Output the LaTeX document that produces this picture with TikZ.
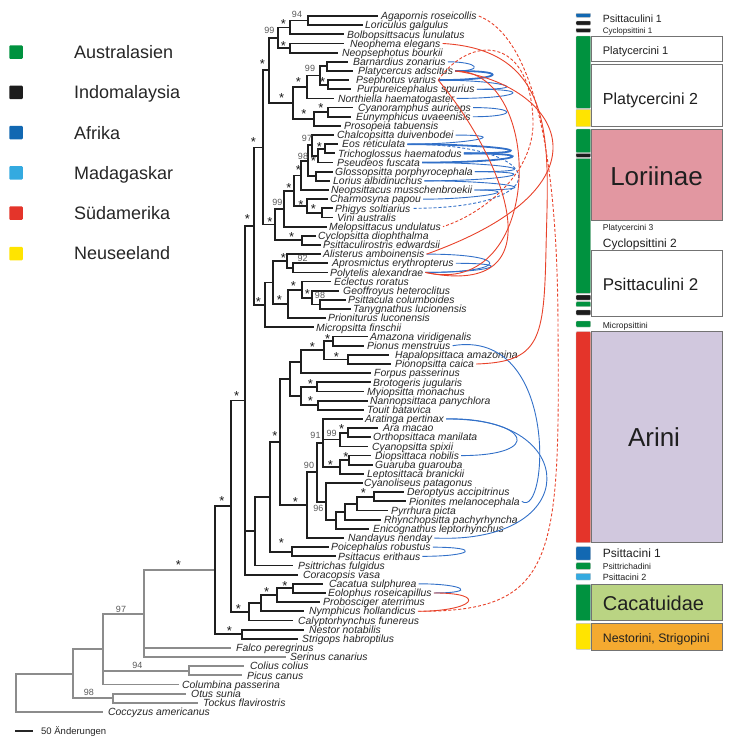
\documentclass[tikz,border=0pt]{standalone}
\usepackage{fontspec}
\setmainfont{Liberation Sans}
\definecolor{cgrn}{RGB}{0,146,63}
\definecolor{cblk}{RGB}{28,28,28}
\definecolor{cafr}{RGB}{18,104,178}
\definecolor{cmad}{RGB}{52,170,224}
\definecolor{csam}{RGB}{228,52,42}
\definecolor{cnz}{RGB}{255,228,0}
\definecolor{flori}{RGB}{226,151,161}
\definecolor{farini}{RGB}{209,200,222}
\definecolor{fcac}{RGB}{186,212,131}
\definecolor{fnest}{RGB}{244,170,48}
\definecolor{lblue}{RGB}{50,112,200}
\definecolor{lred}{RGB}{232,66,42}
\definecolor{ogray}{RGB}{140,140,140}
\newcommand\cloop[4]{\draw[#1] ([xshift=2pt]#2.east) .. controls +(#4,0) and +(#4,0) .. ([xshift=2pt]#3.east);}
\begin{document}
\begin{tikzpicture}[x=1pt,y=-1pt,
  tree/.style={line width=1.8pt, draw=black!88, line cap=rect},
  otree/.style={line width=1.8pt, draw=ogray, line cap=rect},
  taxon/.style={anchor=west, inner sep=0pt, text height=7.4pt, text depth=0pt, font=\fontsize{10.4}{11}\selectfont\itshape, text=black!85},
  st/.style={inner sep=0pt, yshift=-2.8pt, font=\fontsize{13}{13}\selectfont, text=black!90},
  sv/.style={inner sep=0pt, font=\fontsize{9}{10}\selectfont, text=black!65},
  bl/.style={draw=lblue, line width=0.9pt},
  blb/.style={draw=lblue, line width=1.8pt},
  rd/.style={draw=lred, line width=0.9pt},
  dsh/.style={dash pattern=on 3pt off 2pt},
  legsq/.style={minimum size=13.5pt, inner sep=0pt, rounded corners=1pt},
  legtx/.style={anchor=base west, inner sep=0pt, font=\fontsize{18}{20}\selectfont, text=black!85},
  barseg/.style={draw=black!25, line width=0.4pt, rounded corners=0.8pt},
  gbox/.style={draw=black!55, line width=1pt},
  ptx/.style={anchor=base west, inner sep=0pt, text=black!88},
  ]
\useasboundingbox (0,0) rectangle (750,740);

% ---------- internal nodes ----------
\coordinate (root) at (16,692.84);
\coordinate (n73) at (73,673.67);
\coordinate (nOT) at (113,698.27);
\coordinate (n103) at (103,649.07);
\coordinate (nCP) at (189,670.8);
\coordinate (n144) at (144,613.61);
\coordinate (nPs) at (215,570.16);
\coordinate (nNS) at (242,634.17);
\coordinate (n231) at (231,506.14);
\coordinate (nCac) at (249,611.84);
\coordinate (n261) at (261,603.26);
\coordinate (n277) at (277,595.24);
\coordinate (n293) at (293,588.38);
\coordinate (n245) at (245,400.44);
\coordinate (n255) at (255,531.18);
\coordinate (n270) at (270,496.88);
\coordinate (nPP) at (292,551.74);
\coordinate (nAri) at (280,442.03);
\coordinate (nAm) at (290,378.89);
\coordinate (nA1) at (301,361.72);
\coordinate (nA11) at (324.3,350.27);
\coordinate (nAP) at (333.3,341.11);
\coordinate (nHP) at (348,359.43);
\coordinate (nA2) at (301,396.06);
\coordinate (nBM) at (316.7,386.9);
\coordinate (nNT) at (318.3,405.22);
\coordinate (nArini) at (306.7,505.17);
\coordinate (n90) at (316.7,472.33);
\coordinate (n91) at (322.7,442.99);
\coordinate (n99) at (340,439.56);
\coordinate (nAO) at (347.7,432.69);
\coordinate (nDGL) at (340,467.03);
\coordinate (nDG) at (349,460.16);
\coordinate (n96) at (326,501.66);
\coordinate (nE) at (336,520.26);
\coordinate (nR) at (345,511.68);
\coordinate (nPy) at (356.7,503.66);
\coordinate (nDP) at (374,496.8);
\coordinate (n254) at (254.3,226.23);
\coordinate (nI) at (262.7,147.45);
\coordinate (nE2) at (269.3,70.38);
\coordinate (nD) at (277.7,37.75);
\coordinate (nB) at (290,27.45);
\coordinate (nA) at (307.7,20.58);
\coordinate (nC) at (290,48.05);
\coordinate (nM) at (293.3,103.0);
\coordinate (nK) at (306.7,86.98);
\coordinate (nL) at (320,75.53);
\coordinate (nBP) at (326.7,66.37);
\coordinate (nPP2) at (327.7,84.69);
\coordinate (nN) at (314,119.03);
\coordinate (nCE) at (328,112.16);
\coordinate (n11) at (275,224.52);
\coordinate (n9) at (284,208.67);
\coordinate (n8) at (294,190.7);
\coordinate (n6) at (301,175.4);
\coordinate (n4) at (308,160.8);
\coordinate (n2) at (312,145.36);
\coordinate (n3) at (318,155.66);
\coordinate (n1) at (325,148.79);
\coordinate (n5) at (316,176.27);
\coordinate (n7) at (307,206.03);
\coordinate (nPV) at (322,212.9);
\coordinate (n10) at (302,240.37);
\coordinate (n265) at (265,304.9);
\coordinate (n272) at (272.7,282.44);
\coordinate (n287) at (286.7,260.98);
\coordinate (nApP) at (293,267.85);
\coordinate (n288) at (287.7,303.9);
\coordinate (n302) at (302.3,289.6);
\coordinate (n312) at (312.3,297.61);
\coordinate (nPT) at (320,304.48);

% ---------- internal edges ----------
\foreach \p/\c in {root/n73, n73/n103, n73/nOT, n103/n144, n103/nCP, n144/nPs}
  \draw[otree] (\p) |- (\c);
\foreach \p/\c in {nPs/n231, nPs/nNS, n231/n245, n231/nCac, nCac/n261, n261/n277, n277/n293,
  n245/n254, n245/n255, n255/n270, n270/nAri, n270/nPP, nAri/nAm, nAri/nArini, nAm/nA1, nAm/nA2,
  nA1/nA11, nA11/nAP, nA11/nHP, nA2/nBM, nA2/nNT, nArini/n90, n90/n91, n90/n96, n91/n99, n91/nDGL,
  n99/nAO, nDGL/nDG, n96/nE, nE/nR, nR/nPy, nPy/nDP, n254/nI, n254/n265, nI/nE2, nI/n11, nE2/nD,
  nE2/nM, nD/nB, nD/nC, nB/nA, nM/nK, nM/nN, nK/nL, nL/nBP, nL/nPP2, nN/nCE, n11/n9, n11/n10,
  n9/n8, n8/n6, n8/n7, n6/n4, n4/n2, n4/n5, n2/n3, n3/n1, n7/nPV, n265/n272, n272/n287, n272/n288,
  n287/nApP, n288/n302, n302/n312, n312/nPT}
  \draw[tree] (\p) |- (\c);

% ---------- tips and taxon labels ----------
\foreach \p/\ex/\ty/\lx/\nm/\txt in {
 nA/377/16.0/381/t1/Agapornis roseicollis,
 nA/362/25.16/365/t2/Loriculus galgulus,
 nB/343/34.32/347/t3/Bolbopsittsacus lunulatus,
 nC/343/43.47/350/t4/Neophema elegans,
 nC/337/52.63/342/t5/Neopsephotus bourkii,
 nBP/347/61.79/353/t6/Barnardius zonarius,
 nBP/352/70.95/358/t7/Platycercus adscitus,
 nPP2/348/80.11/356/t8/Psephotus varius,
 nPP2/350/89.26/357/t9/Purpureicephalus spurius,
 nK/333/98.42/338/t10/Northiella haematogaster,
 nCE/352/107.58/358/t11/Cyanoramphus auriceps,
 nCE/350/116.74/356/t12/Eunymphicus uvaeenisis,
 nN/340/125.90/344/t13/Prosopeia tabuensis,
 n2/333/135.05/337/t14/Chalcopsitta duivenbodei,
 n1/337/144.21/342/t15/Eos reticulata,
 n1/334/153.37/338/t16/Trichoglossus haematodus,
 n3/332/162.53/337/t17/Pseudeos fuscata,
 n5/332/171.69/335/t18/Glossopsitta porphyrocephala,
 n5/329/180.84/333/t19/Lorius albidinuchus,
 n6/328/190.0/331/t20/Neopsittacus musschenbroekii,
 n7/327/199.16/330/t21/Charmosyna papou,
 nPV/332/208.32/335/t22/Phigys soltiarius,
 nPV/332/217.48/337/t23/Vini australis,
 n9/326/226.63/329/t24/Melopsittacus undulatus,
 n10/315/235.79/318/t25/Cyclopsitta diophthalma,
 n10/320/244.95/323/t26/Psittaculirostris edwardsii,
 n287/320/254.11/323/t27/Alisterus amboinensis,
 nApP/327/263.27/332/t28/Aprosmictus erythropterus,
 nApP/327/272.42/330/t29/Polytelis alexandrae,
 n302/330/281.58/334/t30/Eclectus roratus,
 n312/338/290.74/343/t31/Geoffroyus heteroclitus,
 nPT/345/299.90/348/t32/Psittacula columboides,
 nPT/350/309.06/353/t33/Tanygnathus lucionensis,
 n288/325/318.21/328/t34/Prioniturus luconensis,
 n265/313/327.37/316/t35/Micropsitta finschii,
 nAP/367/336.53/370/t36/Amazona viridigenalis,
 nAP/363/345.69/367/t37/Pionus menstruus,
 nHP/388/354.85/395/t38/Hapalopsittaca amazonina,
 nHP/390/364.0/395/t39/Pionopsitta caica,
 nA1/370/373.16/374/t40/Forpus passerinus,
 nBM/370/382.32/373/t41/Brotogeris jugularis,
 nBM/363/391.48/367/t42/Myiopsitta monachus,
 nNT/367/400.64/370/t43/Nannopsittaca panychlora,
 nNT/363/409.79/367/t44/Touit batavica,
 n91/362/418.95/365/t45/Aratinga pertinax,
 nAO/377/428.11/383/t46/Ara macao,
 nAO/370/437.27/373/t47/Orthopsittaca manilata,
 n99/367/446.43/372/t48/Cyanopsitta spixii,
 nDG/370/455.58/375/t49/Diopsittaca nobilis,
 nDG/372/464.74/375/t50/Guaruba guarouba,
 nDGL/363/473.90/367/t51/Leptosittaca branickii,
 n96/362/483.06/364/t52/Cyanoliseus patagonus,
 nDP/403/492.22/407/t53/Deroptyus accipitrinus,
 nDP/405/501.37/409/t54/Pionites melanocephala,
 nPy/387/510.53/391/t55/Pyrrhura picta,
 nR/380/519.69/384/t56/Rhynchopsitta pachyrhyncha,
 nE/368/528.85/373/t57/Enicognathus leptorhynchus,
 nArini/343/538.01/348/t58/Nandayus nenday,
 nPP/328/547.16/331/t59/Poicephalus robustus,
 nPP/335/556.32/338/t60/Psittacus erithaus,
 n255/292/565.48/298/t61/Psittrichas fulgidus,
 n245/297/574.64/303/t62/Coracopsis vasa,
 n293/322/583.80/329/t63/Cacatua sulphurea,
 n293/325/592.95/328/t64/Eolophus roseicapillus,
 n277/319/602.11/323/t65/Probosciger aterrimus,
 n261/303/611.27/309/t66/Nymphicus hollandicus,
 nCac/292/620.43/298/t67/Calyptorhynchus funereus,
 nNS/303/629.59/309/t68/Nestor notabilis,
 nNS/297/638.74/302/t69/Strigops habroptilus}
{
  \draw[tree] (\p) |- (\ex,\ty);
  \node[taxon] (\nm) at (\lx,\ty) {\txt};
}
\foreach \p/\ex/\ty/\lx/\nm/\txt in {
 n144/230/647.90/236/t70/Falco peregrinus,
 n144/285/657.06/290/t71/Serinus canarius,
 nCP/243/666.22/250/t72/Colius colius,
 nCP/241/675.38/247/t73/Picus canus,
 n103/178/684.53/182/t74/Columbina passerina,
 nOT/185/693.69/191/t75/Otus sunia,
 nOT/197/702.85/203/t76/Tockus flavirostris,
 root/102/712.01/108/t77/Coccyzus americanus}
{
  \draw[otree] (\p) |- (\ex,\ty);
  \node[taxon] (\nm) at (\lx,\ty) {\txt};
}

% ---------- support values ----------
\foreach \x/\y/\v [count=\k] in {297/14/94, 269.3/30.7/99, 310/68.3/99, 307/138.3/97, 303/156/98,
  277.3/202.3/99, 302.7/258.3/92, 320/295/98, 315.5/435.5/91, 331.7/433.7/99, 309/465.5/90,
  318.3/508.3/96, 121/609.3/97, 137.3/665/94, 89/692.7/98}
  \node[sv] (sv\k) at (\x,\y) {\v};
\foreach \x/\y [count=\k] in {283.3/21.7, 283.3/43.3, 262.3/61.7, 298.3/79, 322.7/79.3, 281.7/95.7,
  321/105, 304/111.7, 253.3/139, 319.3/144.3, 313.3/158.3, 298.3/167.7, 289/185.7, 301/202.3,
  313.3/206.7, 270/219, 247.3/216, 291.7/234, 283.3/255, 293.3/283.3, 307.3/291.7, 279.3/297.3,
  258.3/299, 236.7/393.3, 327.7/336.5, 312.3/344.5, 336.4/354.2, 310.5/381.7, 310.5/398.3,
  275/433.3, 341.7/426.2, 330.5/462.2, 346/454.5, 295.4/498.8, 363.3/490, 281.5/540, 222/498,
  178.3/562.7, 238.3/606.7, 266.7/589.3, 285/583.3, 229.3/628.3}
  \node[st] (st\k) at (\x,\y) {*};

% ---------- association curves ----------
\cloop{bl}{t6}{t7}{30}
\cloop{blb}{t7}{t8}{60}
\cloop{bl}{t8}{t9}{60}
\cloop{bl}{t9}{t10}{60}
\cloop{bl}{t11}{t12}{45}
\cloop{bl}{t14}{t15}{60}
\cloop{blb}{t15}{t16}{92}
\cloop{blb}{t16}{t17}{88}
\cloop{bl}{t17}{t18}{80}
\cloop{bl}{t18}{t19}{78}
\cloop{bl}{t19}{t20}{80}
\cloop{bl}{t20}{t21}{55}
\cloop{bl,dsh}{t15}{t22}{145}
\cloop{bl}{t27}{t29}{85}
\cloop{bl}{t28}{t29}{64}
\draw[bl] ([xshift=2pt]t37.east) .. controls (560,328) and (548,520) .. ([xshift=2pt]t54.east);
\cloop{bl}{t45}{t49}{84}
\draw[bl] ([xshift=2pt]t45.east) .. controls (580,415) and (585,545) .. ([xshift=2pt]t58.east);
\cloop{bl}{t59}{t60}{50}
\cloop{bl}{t63}{t64}{45}
\cloop{rd}{t64}{t66}{56}
\draw[rd] ([xshift=2pt]t4.east) .. controls (560,50) and (548,150) .. (546,250) .. controls (544,340) and (540,362) .. ([xshift=2pt]t39.east);
\draw[rd] ([xshift=2pt]t7.east) .. controls (545,70) and (545,300) .. ([xshift=2pt]t29.east);
\draw[rd] ([xshift=2pt]t7.east) .. controls (560,85) and (620,185) .. ([xshift=2pt]t27.east);
\draw[rd] ([xshift=2pt]t8.east) .. controls (505,160) and (560,300) .. ([xshift=2pt]t29.east);
\draw[rd,dsh] ([xshift=2pt]t1.east) .. controls (540,40) and (558,180) .. (558,330) .. controls (560,560) and (555,612) .. ([xshift=2pt]t66.east);
\draw[rd,dsh] ([xshift=2pt]t8.east) .. controls (470,35) and (530,35) .. (533,120) .. controls (535,175) and (480,215) .. ([xshift=2pt]t24.east);

% ---------- legend ----------
\foreach \c/\t [count=\k from 0] in {cgrn/Australasien, cblk/Indomalaysia, cafr/Afrika, cmad/Madagaskar, csam/Südamerika, cnz/Neuseeland} {
  \pgfmathsetmacro\yy{52+40.3*\k}
  \node[legsq, fill=\c] (lq\k) at (16,\yy) {};
  \node[legtx] (lt\k) at (74,\yy+6.4) {\t};
}

% ---------- scale bar ----------
\coordinate (sb1) at (15,731);
\coordinate (sb2) at (33,731);
\draw[line width=1.2pt, black!85] (sb1) -- (sb2);
\node[anchor=west, inner sep=0pt, font=\fontsize{9.5}{10}\selectfont, text=black!85] (sbt) at (41,731) {50 Änderungen};

% ---------- right panel ----------
\foreach \ya/\yb/\c in {13.3/17.3/cafr, 21/25/cblk, 28.3/32.3/cblk, 36/108.3/cgrn, 109.3/126.7/cnz,
  129/152.7/cgrn, 153.3/157.3/cblk, 158.3/293.3/cgrn, 295/300/cblk, 301.7/306.7/cgrn, 310/315/cblk,
  321/327/cgrn, 331.7/542.7/csam, 546.7/560/cafr, 562.7/569.3/cgrn, 573.3/580/cmad,
  584.3/620.7/cgrn, 623.3/649.3/cnz}
  \draw[barseg, fill=\c] (576,\ya) rectangle (590.7,\yb);
\draw[gbox, fill=white] (591,36) rectangle (722,61);
\draw[gbox, fill=white] (591,64) rectangle (722,126.7);
\draw[gbox, fill=flori] (591,129) rectangle (722,220);
\draw[gbox, fill=white] (591,250) rectangle (722,316);
\draw[gbox, fill=farini] (591,331.7) rectangle (722,542.7);
\draw[gbox, fill=fcac] (591,584.3) rectangle (722,620.7);
\draw[gbox, fill=fnest] (591,623.3) rectangle (722,650.7);

\node[ptx, font=\fontsize{10.5}{12}\selectfont] (p1) at (602.7,22.1) {Psittaculini 1};
\node[ptx, font=\fontsize{8}{9}\selectfont] (p2) at (602.7,33.6) {Cyclopsittini 1};
\node[ptx, font=\fontsize{11}{12}\selectfont] (p3) at (602.7,54) {Platycercini 1};
\node[ptx, font=\fontsize{16}{18}\selectfont] (p4) at (602.7,104.1) {Platycercini 2};
\node[ptx, anchor=base, font=\fontsize{26}{28}\selectfont] (p5) at (656.5,185.4) {Loriinae};
\node[ptx, font=\fontsize{8.5}{9}\selectfont] (p6) at (602.7,230.1) {Platycercini 3};
\node[ptx, font=\fontsize{12}{13}\selectfont] (p7) at (602.7,247.3) {Cyclopsittini 2};
\node[ptx, font=\fontsize{17}{19}\selectfont] (p8) at (602.7,290.1) {Psittaculini 2};
\node[ptx, font=\fontsize{8.5}{9}\selectfont] (p9) at (602.7,328.1) {Micropsittini};
\node[ptx, anchor=base, font=\fontsize{26}{28}\selectfont] (p10) at (654,446.1) {Arini};
\node[ptx, font=\fontsize{12}{13}\selectfont] (p11) at (602.7,557.6) {Psittacini 1};
\node[ptx, font=\fontsize{8.5}{9}\selectfont] (p12) at (602.7,569.8) {Psittrichadini};
\node[ptx, font=\fontsize{9}{10}\selectfont] (p13) at (602.7,580.5) {Psittacini 2};
\node[ptx, font=\fontsize{20}{22}\selectfont] (p14) at (602.7,610.5) {Cacatuidae};
\node[ptx, font=\fontsize{12.3}{13}\selectfont] (p15) at (602.7,642.7) {Nestorini, Strigopini};
\end{tikzpicture}
\end{document}
